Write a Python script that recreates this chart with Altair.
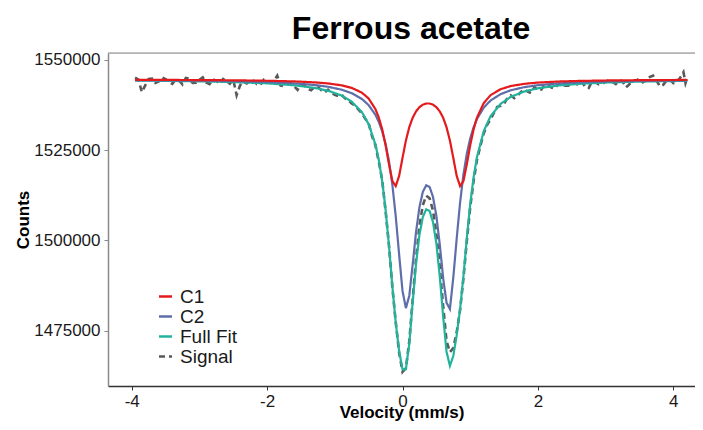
import altair as alt
import pandas as pd

# ---- data ----
velocity_fit = [-3.95, -3.5, -3.0, -2.5, -2.0, -1.6, -1.3, -1.1, -0.9, -0.75,
                -0.6, -0.5, -0.4, -0.35, -0.3, -0.25, -0.2, -0.15, -0.1, -0.05,
                0.0, 0.05, 0.1, 0.15, 0.2, 0.25, 0.3, 0.35, 0.4, 0.45,
                0.5, 0.55, 0.6, 0.65, 0.7, 0.75, 0.8, 0.85, 0.9, 0.95,
                1.0, 1.05, 1.1, 1.2, 1.3, 1.45, 1.6, 1.8, 2.0, 2.3,
                2.6, 3.0, 3.5, 4.0, 4.2]

c1_counts = [1544473, 1544448, 1544406, 1544339, 1544219, 1544035, 1543775, 1543473, 1542947, 1542238,
             1540917, 1539292, 1536366, 1534020, 1530759, 1526374, 1521112, 1516458, 1515040, 1517865,
             1522857, 1527658, 1531363, 1533978, 1535749, 1536902, 1537594, 1537918, 1537918, 1537594,
             1536902, 1535749, 1533978, 1531363, 1527658, 1522857, 1517865, 1515040, 1516458, 1521112,
             1526374, 1530759, 1534020, 1538056, 1540215, 1541893, 1542753, 1543370, 1543713, 1544002,
             1544163, 1544289, 1544377, 1544429, 1544444]

c2_counts = [1544360, 1544307, 1544222, 1544085, 1543848, 1543502, 1543044, 1542546, 1541747, 1540778,
             1539183, 1537469, 1534771, 1532810, 1530216, 1526724, 1521951, 1515411, 1506688, 1496091,
             1486019, 1481254, 1484690, 1493354, 1502370, 1509227, 1513460, 1515266, 1514819, 1512073,
             1506801, 1498945, 1489606, 1482800, 1481000, 1489708, 1500466, 1510449, 1518272, 1524043,
             1528250, 1531344, 1533658, 1536791, 1538742, 1540523, 1541586, 1542450, 1542982, 1543467,
             1543757, 1543994, 1544167, 1544272, 1544303]

fit_counts = [1544263, 1544185, 1544058, 1543854, 1543497, 1542967, 1542249, 1541449, 1540124, 1538446,
              1535530, 1532191, 1526566, 1522259, 1516405, 1508528, 1498492, 1487300, 1477158, 1469386,
              1464306, 1464342, 1471483, 1482762, 1493549, 1501559, 1506483, 1508614, 1508167, 1505097,
              1499132, 1490124, 1479014, 1469199, 1465301, 1467994, 1473761, 1480919, 1490160, 1500585,
              1510054, 1517533, 1523108, 1530277, 1534387, 1537845, 1539769, 1541250, 1542125, 1542898,
              1543350, 1543712, 1543974, 1544132, 1544177]

velocity_signal = [
    -3.95, -3.9, -3.85, -3.8, -3.75, -3.7, -3.65, -3.6, -3.55, -3.5,
    -3.45, -3.4, -3.35, -3.3, -3.25, -3.2, -3.15, -3.1, -3.05, -3.0,
    -2.95, -2.9, -2.85, -2.8, -2.75, -2.7, -2.65, -2.6, -2.55, -2.5,
    -2.45, -2.4, -2.35, -2.3, -2.25, -2.2, -2.15, -2.1, -2.05, -2.0,
    -1.95, -1.9, -1.85, -1.8, -1.75, -1.7, -1.65, -1.6, -1.55, -1.5,
    -1.45, -1.4, -1.35, -1.3, -1.25, -1.2, -1.15, -1.1, -1.05, -1.0,
    -0.95, -0.9, -0.85, -0.8, -0.75, -0.7, -0.65, -0.6,
    -0.55, -0.5, -0.45, -0.4, -0.35, -0.3, -0.25, -0.2, -0.15, -0.1,
    -0.05, 0.0, 0.05, 0.1, 0.15, 0.2, 0.25, 0.3, 0.35, 0.4,
    0.45, 0.5, 0.55, 0.6, 0.65, 0.7, 0.75, 0.8, 0.85, 0.9,
    0.95, 1.0, 1.05, 1.1,
    1.15, 1.2, 1.25, 1.3, 1.35, 1.4, 1.45, 1.5, 1.55, 1.6,
    1.65, 1.7, 1.75, 1.8, 1.85, 1.9, 1.95, 2.0, 2.05, 2.1,
    2.15, 2.2, 2.25, 2.3, 2.35, 2.4, 2.45, 2.5, 2.55, 2.6,
    2.65, 2.7, 2.75, 2.8, 2.85, 2.9, 2.95, 3.0, 3.05, 3.1,
    3.15, 3.2, 3.25, 3.3, 3.35, 3.4, 3.45, 3.5, 3.55, 3.6,
    3.65, 3.7, 3.75, 3.8, 3.85, 3.9, 3.95, 4.0, 4.05, 4.1,
    4.12, 4.15, 4.18, 4.2, 4.22]

signal_counts = [
    1545060, 1544550, 1541050, 1542940, 1544730, 1544820, 1543610, 1544000, 1545100, 1544690,
    1543880, 1543360, 1544550, 1544340, 1543230, 1545010, 1544800, 1543590, 1543670, 1544460,
    1545140, 1543720, 1543300, 1544580, 1544260, 1543340, 1544720, 1544100, 1543380, 1544550,
    1540230, 1542900, 1543980, 1543450, 1544320, 1544190, 1543250, 1543000, 1544460, 1543800,
    1543740, 1544180, 1545610, 1542850, 1542690, 1543420, 1543450, 1542670, 1541660, 1543150,
    1542940, 1542010, 1541580, 1542450, 1542580, 1541580, 1540980, 1541750, 1540800, 1540330,
    1539950, 1540320, 1539350, 1538780, 1537950, 1537280, 1536240, 1535230,
    1533680, 1532390, 1528900, 1526370, 1521760, 1516700, 1508130, 1498690, 1487000, 1477360,
    1468990, 1463610, 1464640, 1472080, 1483660, 1495050, 1504060, 1509780, 1512410, 1511670,
    1508300, 1501930, 1492720, 1481910, 1472200, 1469100, 1470190, 1474560, 1480720, 1489560,
    1499890, 1509150, 1516530, 1522310,
    1526200, 1529680, 1532000, 1533590, 1535300, 1537000, 1537250, 1537860, 1539500, 1540170,
    1539400, 1540080, 1541130, 1541850, 1541200, 1540820, 1542430, 1541530, 1541780, 1543120,
    1542850, 1542370, 1542090, 1543400, 1543380, 1542860, 1542840, 1543810, 1543480, 1543050,
    1543900, 1542450, 1542200, 1544040, 1543790, 1543230, 1543370, 1544010, 1544240, 1543870,
    1543300, 1544320, 1544045, 1542370, 1543200, 1544330, 1544250, 1544870, 1543790, 1544310,
    1545225, 1545640, 1544355, 1542670, 1543085, 1544300, 1544515, 1543530, 1543645, 1545060,
    1545560, 1546570, 1543570, 1544680, 1544980]

series_names = ["C1", "C2", "Full Fit", "Signal"]
series_colors = ["#E41A1C", "#5E6EAA", "#22B39C", "#595959"]
series_dashes = [[1, 0], [1, 0], [1, 0], [6, 4]]
x_ticks = [-4, -2, 0, 2, 4]
y_ticks = [1475000, 1500000, 1525000, 1550000]
chart_title = ["Ferrous acetate"]

# ---- build tables ----
def series_frame(name, xs, ys):
    return pd.DataFrame({"Velocity": xs, "Counts": ys, "Series": name})

df_c1 = series_frame("C1", velocity_fit, c1_counts)
df_c2 = series_frame("C2", velocity_fit, c2_counts)
df_fit = series_frame("Full Fit", velocity_fit, fit_counts)
df_sig = series_frame("Signal", velocity_signal, signal_counts)

W, H = 587, 333
FONT = "Liberation Sans"

xscale = alt.Scale(domain=[-4.35, 4.32], nice=False, zero=False)
yscale = alt.Scale(domain=[1459700, 1551900], nice=False, zero=False)

xaxis = alt.Axis(values=x_ticks, title="Velocity (mm/s)", grid=False,
                 labelExpr="replace(datum.label, '\u2212', '-')",
                 labelFontSize=17, labelColor="#1a1a1a", labelFont=FONT,
                 tickSize=4, tickColor="#333333", labelPadding=3,
                 domainColor="#333333", domainWidth=1.5,
                 titleFontSize=17, titleFontWeight="bold", titleFont=FONT,
                 titleColor="#000000", titleBaseline="alphabetic", titlePadding=8)
yaxis = alt.Axis(values=y_ticks, format="d", title="Counts", grid=False,
                 labelFontSize=17, labelColor="#1a1a1a", labelFont=FONT,
                 tickSize=4, tickColor="#888888", labelPadding=4,
                 domainColor="#8a8a8a", domainWidth=1.5,
                 titleFontSize=17, titleFontWeight="bold", titleFont=FONT,
                 titleColor="#000000", titlePadding=1)

legend = alt.Legend(title=None, orient="none", legendX=48, legendY=234,
                    symbolType="stroke", symbolStrokeWidth=2.5, symbolSize=170,
                    labelFontSize=19, labelFont=FONT, labelColor="#1a1a1a",
                    rowPadding=0, padding=0, labelOffset=5)

color = alt.Color("Series:N", scale=alt.Scale(domain=series_names, range=series_colors),
                  legend=legend)
dash = alt.StrokeDash("Series:N", scale=alt.Scale(domain=series_names, range=series_dashes),
                      legend=legend)


def line_layer(df, width):
    return alt.Chart(df).mark_line(strokeWidth=width, clip=True).encode(
        x=alt.X("Velocity:Q", scale=xscale, axis=xaxis),
        y=alt.Y("Counts:Q", scale=yscale, axis=yaxis),
        color=color,
        strokeDash=dash,
    )


top_border = alt.Chart(pd.DataFrame({"k": [0]})).mark_rule(
    color="#8a8a8a", strokeWidth=1.2
).encode(x=alt.value(0), x2=alt.value(W), y=alt.value(0))

title_text = alt.Chart(pd.DataFrame({"t": chart_title})).mark_text(
    font=FONT, fontSize=32, fontWeight="bold", color="#000000",
    align="center", baseline="alphabetic"
).encode(text="t:N", x=alt.value(W / 2 + 9.5), y=alt.value(-14))

chart = alt.layer(
    line_layer(df_sig, 2.6),
    line_layer(df_fit, 2.2),
    line_layer(df_c2, 2.2),
    line_layer(df_c1, 2.2),
    top_border,
    title_text,
).properties(
    width=W,
    height=H,
    autosize=alt.AutoSizeParams(type="none"),
    padding={"left": 100, "top": 45, "right": 0, "bottom": 36},
).configure_view(stroke=None).configure(background="white")

chart.save("out.html", embed_options={"renderer": "svg", "actions": False})
